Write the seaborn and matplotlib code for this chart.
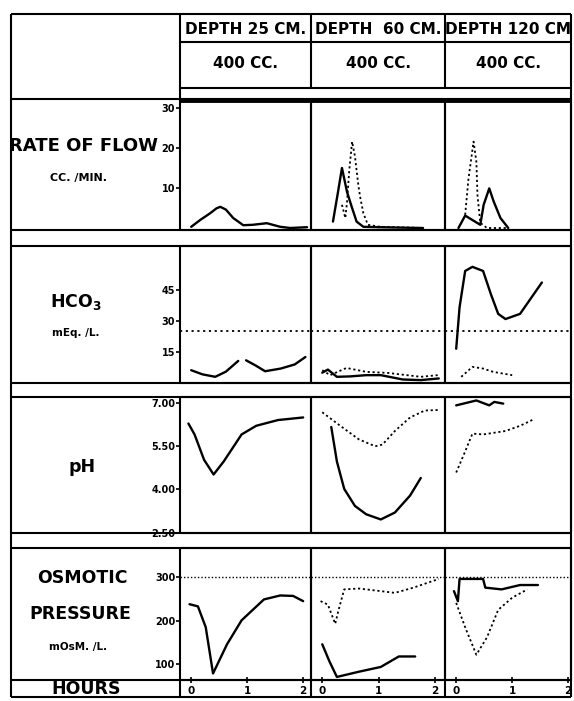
import pandas as pd
import seaborn as sns
import matplotlib.pyplot as plt

# hours after the dose
# rate of flow, cc./min.
rate25_t = [0.0, 0.16, 0.34, 0.45, 0.52, 0.62, 0.75, 0.93, 1.1, 1.35, 1.59, 1.77, 2.07]
rate25 = [0.3, 2.0, 3.7, 4.9, 5.3, 4.6, 2.5, 0.7, 0.8, 1.2, 0.3, 0.0, 0.2]
rate60_t = [0.19, 0.27, 0.35, 0.44, 0.53, 0.61, 0.73, 1.0, 1.79]
rate60 = [1.6, 8.2, 15.0, 9.0, 5.0, 1.6, 0.3, 0.2, 0.0]
rate60d_t = [0.35, 0.41, 0.44, 0.48, 0.53, 0.58, 0.64, 0.67, 0.73, 0.81, 1.03, 1.79]
rate60d = [5.8, 2.5, 6.5, 14.5, 21.6, 18.0, 10.8, 8.0, 3.7, 0.8, 0.3, 0.0]
rate120_t = [0.04, 0.16, 0.43, 0.49, 0.59, 0.67, 0.79, 0.93]
rate120 = [0.0, 3.1, 0.8, 5.8, 9.9, 6.6, 2.5, 0.0]
rate120d_t = [0.16, 0.22, 0.31, 0.36, 0.38, 0.43, 0.55, 0.9]
rate120d = [3.3, 12.4, 21.6, 16.6, 8.2, 1.3, 0.0, 0.0]

# HCO3, mEq./L.
hco3_25a_t = [0.0, 0.2, 0.43, 0.62, 0.84]
hco3_25a = [6.2, 4.2, 3.0, 5.5, 10.7]
hco3_25b_t = [0.98, 1.15, 1.32, 1.6, 1.85, 2.04]
hco3_25b = [11.0, 8.5, 5.7, 7.0, 9.0, 12.6]
hco3_60_t = [0.0, 0.1, 0.26, 0.5, 0.78, 1.04, 1.43, 1.75, 2.07]
hco3_60 = [5.0, 6.5, 3.0, 3.2, 3.8, 3.8, 1.7, 1.4, 2.2]
hco3_60d_t = [0.0, 0.14, 0.43, 0.78, 1.16, 1.75, 2.05]
hco3_60d = [6.2, 3.8, 7.3, 5.4, 4.9, 3.0, 3.8]
hco3_120_t = [0.0, 0.06, 0.16, 0.29, 0.48, 0.62, 0.75, 0.88, 1.14, 1.53]
hco3_120 = [16.6, 36.7, 54.3, 56.3, 54.3, 43.0, 33.5, 31.0, 33.5, 48.7]
hco3_120d_t = [0.09, 0.29, 0.48, 0.66, 1.0]
hco3_120d = [3.0, 7.8, 7.0, 5.4, 3.8]

# pH
ph25_t = [-0.05, 0.06, 0.23, 0.4, 0.58, 0.9, 1.16, 1.55, 2.0]
ph25 = [6.29, 5.91, 5.03, 4.52, 4.97, 5.91, 6.21, 6.41, 6.50]
ph60_t = [0.16, 0.26, 0.39, 0.58, 0.78, 1.04, 1.29, 1.56, 1.75]
ph60 = [6.17, 4.97, 4.02, 3.43, 3.14, 2.96, 3.2, 3.79, 4.40]
ph60d_t = [0.0, 0.32, 0.65, 0.94, 1.07, 1.29, 1.56, 1.82, 2.07]
ph60d = [6.68, 6.21, 5.74, 5.5, 5.56, 6.03, 6.5, 6.74, 6.76]
ph120_t = [0.0, 0.36, 0.59, 0.68, 0.84]
ph120 = [6.92, 7.09, 6.92, 7.04, 6.98]
ph120d_t = [0.0, 0.16, 0.29, 0.48, 0.88, 1.14, 1.40]
ph120d = [4.59, 5.32, 5.94, 5.91, 6.03, 6.21, 6.45]

# osmotic pressure, mOsM./L.
osm25_t = [-0.03, 0.12, 0.26, 0.39, 0.64, 0.9, 1.3, 1.59, 1.82, 2.0]
osm25 = [238, 233, 185, 79, 146, 201, 249, 258, 257, 245]
osm60_t = [0.0, 0.13, 0.26, 0.65, 1.04, 1.36, 1.65]
osm60 = [146, 106, 71, 83, 94, 118, 118]
osm60d_t = [-0.03, 0.1, 0.23, 0.29, 0.39, 0.65, 1.04, 1.29, 1.62, 2.07]
osm60d = [245, 237, 193, 225, 272, 274, 268, 264, 276, 296]
osm120_t = [-0.04, 0.03, 0.06, 0.48, 0.52, 0.81, 1.14, 1.46]
osm120 = [268, 245, 296, 296, 276, 272, 282, 282]
osm120d_t = [0.0, 0.16, 0.36, 0.55, 0.75, 1.0, 1.27]
osm120d = [241, 185, 122, 162, 225, 253, 272]

normal_hco3 = 25
normal_osm = 300

depths = ["DEPTH 25 CM.", "DEPTH  60 CM.", "DEPTH 120 CM"]
volumes = ["400 CC.", "400 CC.", "400 CC."]
rate_ticks = [10, 20, 30]
hco3_ticks = [15, 30, 45]
ph_ticks = [2.5, 4.0, 5.5, 7.0]
ph_labels = ["2.50", "4.00", "5.50", "7.00"]
osm_ticks = [100, 200, 300]
hour_ticks = [0, 1, 2]

sns.set_style("white")
plt.rcParams["font.family"] = ["DejaVu Sans"]
plt.rcParams["font.weight"] = "bold"
plt.rcParams["text.color"] = "black"
plt.rcParams["xtick.color"] = "black"
plt.rcParams["ytick.color"] = "black"

W, H = 574, 701
fig = plt.figure(figsize=(W / 100, H / 100), dpi=100)

# overlay for the table rules and row labels, in pixels
grid = fig.add_axes([0, 0, 1, 1])
grid.set_xlim(0, W)
grid.set_ylim(H, 0)
grid.axis("off")


def rect(x0, x1, y0, y1):
    return [x0 / W, 1 - y1 / H, (x1 - x0) / W, (y1 - y0) / H]


cols = [(180, 311), (311, 445), (445, 571)]
rows = [(100, 230), (246, 383), (397, 533), (548, 680)]
xlims = [(-0.2, 2.14), (-0.2, 2.18), (-0.2, 2.05)]
ylims = [(-0.5, 32), (0, 66.4), (2.49, 7.21), (64, 367)]

# table rules
lk = dict(color="black", lw=1.5, solid_capstyle="butt")
for y in [14, 99, 230, 246, 383, 397, 533, 548, 680, 697]:
    grid.plot([11, 571], [y, y], **lk)
for y in [42, 88]:
    grid.plot([180, 571], [y, y], **lk)
grid.plot([11, 11], [14, 697], **lk)
grid.plot([571, 571], [14, 697], **lk)
grid.plot([180, 180], [14, 99], **lk)
grid.plot([180, 180], [680, 697], **lk)
for x in [311, 445]:
    grid.plot([x, x], [14, 88], **lk)
    grid.plot([x, x], [680, 697], **lk)

for (x0, x1), d, v in zip(cols, depths, volumes):
    grid.text((x0 + x1) / 2, 29, d, ha="center", va="center", fontsize=11)
    grid.text((x0 + x1) / 2, 63, v, ha="center", va="center", fontsize=11)

big = dict(ha="center", va="center", fontsize=12.5)
small = dict(ha="center", va="center", fontsize=7.5)
grid.text(158, 146, "RATE OF FLOW", ha="right", va="center", fontsize=13)
grid.text(78, 178, "CC. /MIN.", ha="center", va="center", fontsize=8)
grid.text(76, 302, "HCO$_\\mathbf{3}$", **big)
grid.text(76, 333, "mEq. /L.", **small)
grid.text(82, 467, "pH", **big)
grid.text(82, 578, "OSMOTIC", **big)
grid.text(80, 614, "PRESSURE", **big)
grid.text(78, 647, "mOsM. /L.", **small)
grid.text(86, 689, "HOURS", **big)


def curve(ax, t, v, dotted=False):
    d = pd.DataFrame({"hours": t, "value": v})
    sns.lineplot(data=d, x="hours", y="value", ax=ax, color="black",
                 sort=False, estimator=None,
                 lw=1.3 if dotted else 1.7,
                 linestyle=(0, (1.2, 1.5)) if dotted else "-")


panels = [
    [[(rate25_t, rate25, False)],
     [(rate60_t, rate60, False), (rate60d_t, rate60d, True)],
     [(rate120_t, rate120, False), (rate120d_t, rate120d, True)]],
    [[(hco3_25a_t, hco3_25a, False), (hco3_25b_t, hco3_25b, False)],
     [(hco3_60_t, hco3_60, False), (hco3_60d_t, hco3_60d, True)],
     [(hco3_120_t, hco3_120, False), (hco3_120d_t, hco3_120d, True)]],
    [[(ph25_t, ph25, False)],
     [(ph60_t, ph60, False), (ph60d_t, ph60d, True)],
     [(ph120_t, ph120, False), (ph120d_t, ph120d, True)]],
    [[(osm25_t, osm25, False)],
     [(osm60_t, osm60, False), (osm60d_t, osm60d, True)],
     [(osm120_t, osm120, False), (osm120d_t, osm120d, True)]],
]
yticks = [(rate_ticks, [str(t) for t in rate_ticks]),
          (hco3_ticks, [str(t) for t in hco3_ticks]),
          (ph_ticks, ph_labels),
          (osm_ticks, [str(t) for t in osm_ticks])]

for r, (y0, y1) in enumerate(rows):
    for c, (x0, x1) in enumerate(cols):
        ax = fig.add_axes(rect(x0, x1, y0, y1))
        ax.set_facecolor("none")
        for s in ax.spines.values():
            s.set_color("black")
            s.set_linewidth(1.5)
            s.set_capstyle("butt")
        if r == 0:
            ax.spines["top"].set_linewidth(3.5)
        for series in panels[r][c]:
            curve(ax, *series)
        if r == 1:
            ax.axhline(normal_hco3, color="black", lw=1.3, ls=(0, (1.2, 2.0)), clip_on=False)
        if r == 3:
            ax.axhline(normal_osm, color="black", lw=1.0, ls=(0, (1.0, 1.5)), clip_on=False)
        ax.set_xlim(*xlims[c])
        ax.set_ylim(*ylims[r])
        ax.set_xlabel("")
        ax.set_ylabel("")
        if c == 0:
            ax.set_yticks(yticks[r][0], yticks[r][1])
            ax.tick_params(axis="y", left=True, length=3, width=1.2, pad=0.5,
                           labelsize=7)
        else:
            ax.set_yticks([])
        if r == 3:
            ax.set_xticks(hour_ticks, [str(h) for h in hour_ticks])
            ax.tick_params(axis="x", bottom=True, direction="inout", length=4,
                           width=1.2, pad=2, labelsize=7.5)
        else:
            ax.set_xticks([])
        for lab in ax.get_xticklabels() + ax.get_yticklabels():
            lab.set_fontweight("heavy")

fig.savefig("out.png", dpi=100)
